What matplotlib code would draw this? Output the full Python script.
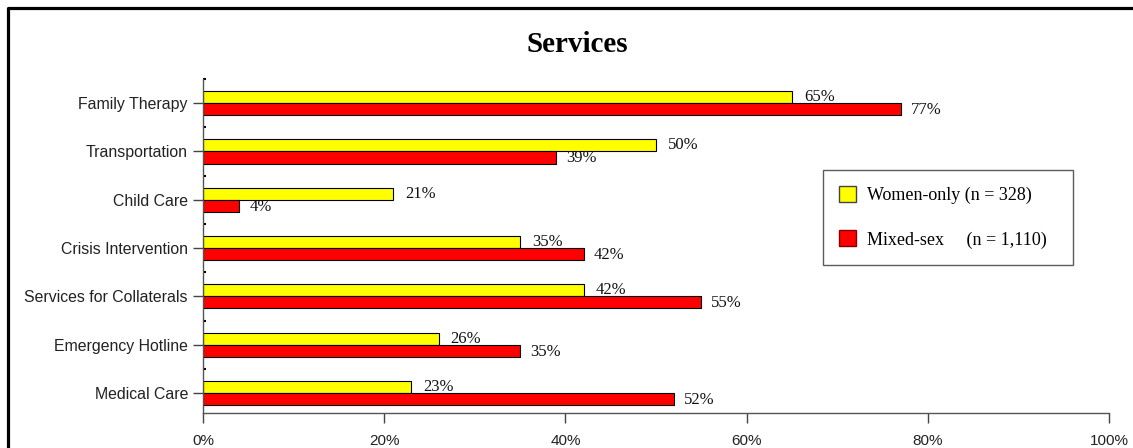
import matplotlib
matplotlib.use("Agg")
import matplotlib.pyplot as plt
from matplotlib.lines import Line2D
from matplotlib.patches import Patch
import numpy as np

categories = ["Family Therapy", "Transportation", "Child Care", "Crisis Intervention",
              "Services for Collaterals", "Emergency Hotline", "Medical Care"]
women_only = [65, 50, 21, 35, 42, 26, 23]
mixed_sex = [77, 39, 4, 42, 55, 35, 52]
xticks = [0, 20, 40, 60, 80, 100]
xtick_labels = ["0%", "20%", "40%", "60%", "80%", "100%"]
title = "Services"
legend_labels = ["Women-only (n = 328)", "Mixed-sex     (n = 1,110)"]

SERIF = "Liberation Serif"
SANS = "Liberation Sans"

W, H = 1133, 448
PX = 72 / 100  # points per pixel
fig = plt.figure(figsize=(W / 100, H / 100), dpi=100)
ax = fig.add_axes([203 / W, 1 - 413 / H, 906 / W, 334 / H])

y = np.arange(len(categories))
bh = 0.25
ax.barh(y - bh / 2, women_only, height=bh, color="#FFFF00", edgecolor="black", linewidth=0.8)
ax.barh(y + bh / 2, mixed_sex, height=bh, color="#FF0000", edgecolor="black", linewidth=0.8)

for yi, v in zip(y, women_only):
    ax.annotate(f"{v}%", (v, yi - bh / 2), xytext=(12, 0), textcoords="offset pixels",
                ha="left", va="center", fontsize=12, family=SERIF, color="#111111")
for yi, v in zip(y, mixed_sex):
    ax.annotate(f"{v}%", (v, yi + bh / 2 + 0.02), xytext=(10, 0), textcoords="offset pixels",
                ha="left", va="center", fontsize=12, family=SERIF, color="#111111")

ax.set_xlim(0, 100)
ax.set_ylim(6 + 20 / 48.33, -0.5)
ax.set_yticks(y)
ax.set_yticklabels(categories, family=SANS, fontsize=11.4, color="#222222")
ax.set_yticks(np.arange(len(categories)) - 0.5, minor=True)
ax.set_xticks(xticks)
ax.set_xticklabels(xtick_labels, family=SANS, fontsize=11, color="#222222")
ax.tick_params(axis="y", which="major", direction="out", length=10 * PX, width=1, color="#444444", pad=5 * PX)
ax.tick_params(axis="y", which="minor", direction="in", length=2, width=1.5, color="black")
ax.tick_params(axis="x", which="major", direction="out", length=10 * PX, width=1, color="#444444", pad=11 * PX)
for s in ["top", "right"]:
    ax.spines[s].set_visible(False)
for s in ["left", "bottom"]:
    ax.spines[s].set_color("#555555")
    ax.spines[s].set_linewidth(1)

fig.text(577 / W, 1 - 45 / H, title, ha="center", va="center", family=SERIF,
         fontsize=21, fontweight="bold")

handles = [Patch(facecolor="#FFFF00", edgecolor="#444444", linewidth=1),
           Patch(facecolor="#FF0000", edgecolor="#880000", linewidth=1)]
x0 = (823 - 203) / 906
y1 = (413 - 170) / 334
wl = 250 / 906
leg = ax.legend(handles, legend_labels, loc="upper left", bbox_to_anchor=(x0, y1 - 0.29, wl, 0.29),
                mode="expand", prop={"family": SERIF, "size": 13}, frameon=True, fancybox=False,
                handlelength=0.95, handleheight=0.95, handletextpad=0.6, labelspacing=1.45,
                borderpad=0.9, borderaxespad=0)
leg.get_frame().set_edgecolor("#333333")
leg.get_frame().set_linewidth(1)

# outer frame (left and top edges visible)
fig.add_artist(Line2D([8 / W, 8 / W, 1.0], [0.0, 1 - 8 / H, 1 - 8 / H],
                      transform=fig.transFigure, color="black", linewidth=2.3))

fig.savefig("out.png", dpi=100)
